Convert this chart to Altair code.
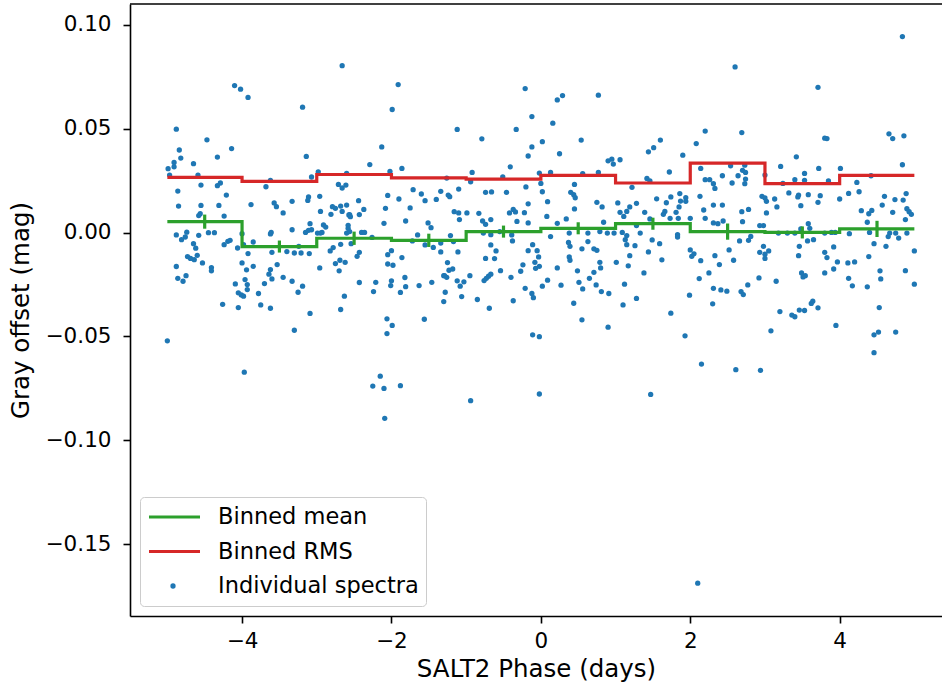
import altair as alt
import pandas as pd

# ---------------- data ----------------
phase = [
    -4.10, -4.02, -3.92, -4.88, -4.47, -4.14, -4.84, -4.82, -4.33, -4.91, -4.65, -4.99, -4.91, -4.97, -4.59,
    -4.55, -4.33, -4.29, -4.21, -4.86, -4.85, -4.55, -4.31, -3.88, -4.56, -4.58, -4.24, -4.74, -4.45, -4.37,
    -4.58, -4.88, -4.76, -4.81, -4.00, -3.98, -3.85, -4.65, -4.62, -4.24, -4.19, -4.16, -4.06, -3.92, -4.73,
    -4.69, -4.64, -4.60, -4.53, -4.00, -3.94, -3.85, -4.88, -4.41, -4.41, -4.86, -4.75, -4.79, -4.09, -3.96,
    -3.93, -3.93, -4.05, -4.01, -3.98, -4.26, -4.05, -5.00, -3.97,
    -2.66, -3.19, -3.14, -2.98, -3.07, -3.62, -3.68, -2.71, -2.66, -2.61, -2.60, -3.11, -3.12, -2.96, -3.33,
    -3.57, -3.54, -3.45, -2.95, -2.79, -2.75, -2.68, -2.66, -2.60, -2.81, -2.57, -3.09, -2.91, -2.88, -3.33,
    -3.61, -3.62, -3.15, -3.11, -3.07, -2.99, -2.95, -2.93, -2.60, -2.58, -3.60, -3.40, -3.30, -3.21, -3.10,
    -3.24, -2.82, -2.78, -2.68, -3.53, -3.62, -3.64, -3.60, -3.45, -3.33, -3.19, -3.25, -3.70, -3.78, -3.75,
    -3.62, -2.96, -2.75, -2.70, -2.69, -2.62, -2.63, -2.68, -3.09, -3.30,
    -1.91, -1.99, -2.13, -2.29, -1.86, -2.02, -1.71, -1.60, -1.55, -1.40, -1.34, -2.05, -1.90, -2.44, -2.37,
    -2.08, -1.75, -2.43, -2.56, -2.55, -1.81, -2.10, -1.51, -1.47, -2.58, -2.56, -2.40, -2.36, -2.26, -2.54,
    -1.65, -1.72, -1.55, -1.44, -1.34, -2.00, -2.05, -1.86, -2.43, -2.46, -2.05, -1.98, -1.82, -2.00, -2.01,
    -1.81, -1.63, -1.46, -1.30, -2.21, -2.43, -2.24, -1.88, -1.30, -2.06, -1.99, -2.06, -1.56, -2.15, -2.25,
    -2.10, -1.88, -2.09,
    -0.21, -0.12, -1.12, -0.33, -0.79, -0.12, -0.17, -0.41, -0.92, -0.94, -0.51, -1.26, -0.20, -0.02, -1.10,
    -1.24, -1.22, -0.74, -0.66, -0.46, -0.17, -1.16, -1.10, -1.09, -0.99, -0.83, -0.78, -0.74, -0.67, -0.42,
    -0.37, -0.34, -0.32, -0.22, -0.17, -1.21, -1.17, -1.34, -1.11, -0.77, -0.67, -0.55, -0.39, -0.38, -0.67,
    -0.60, -0.11, -0.05, -0.17, -0.74, -0.62, -0.54, -1.25, -1.23, -1.18, -1.29, -1.26, -1.12, -1.03, -1.08,
    -0.95, -0.76, -0.73, -0.70, -0.67, -0.40, -0.27, -0.24, -0.08, -0.07, -0.03, -0.02, -0.21, -0.12, -0.10,
    -1.28, -1.06, -0.85, -0.69, -0.37, -0.11, -0.02, -0.94, -0.02,
    0.77, 0.22, 0.29, 0.16, 0.54, 0.02, 0.25, 0.90, 0.95, 0.97, 1.06, 0.13, 0.56, 0.77, 0.00,
    0.02, 0.45, 0.40, 0.44, 0.46, 0.09, 0.75, 0.82, 1.03, 1.22, 0.45, 0.08, 0.34, 0.22, 0.84,
    1.06, 1.11, 1.15, 1.19, 0.13, 0.38, 0.63, 0.79, 0.89, 0.98, 1.09, 0.37, 0.39, 0.63, 0.71,
    0.75, 0.55, 0.38, 0.39, 0.22, 0.49, 0.79, 0.80, 0.71, 0.65, 0.51, 0.56, 0.74, 0.81, 0.91,
    1.01, 1.17, 1.19, 1.13, 1.15, 1.15, 1.12, 1.10, 0.09, 0.02, 0.27, 0.44, 0.55, 0.90,
    2.20, 1.60, 2.08, 1.51, 1.44, 1.90, 1.72, 2.14, 1.42, 1.46, 2.20, 2.26, 2.31, 2.33, 2.43,
    1.55, 1.28, 1.74, 1.68, 1.86, 1.87, 1.94, 1.94, 1.85, 2.13, 2.31, 2.43, 2.18, 1.39, 1.66,
    1.64, 1.81, 1.73, 1.84, 2.00, 2.20, 2.31, 2.37, 2.44, 1.46, 1.28, 1.33, 1.83, 1.83, 1.49,
    1.59, 1.26, 1.44, 2.00, 2.02, 2.05, 2.14, 1.62, 2.33, 2.39, 2.52, 1.38, 2.25, 2.12, 2.31,
    2.41, 2.49, 1.99, 2.30, 1.28, 1.74, 1.93, 2.15, 1.47,
    2.60, 3.71, 2.69, 3.80, 3.42, 3.21, 3.72, 2.54, 2.73, 2.70, 2.74, 2.64, 2.74, 2.73, 2.56,
    3.00, 3.53, 3.40, 3.53, 3.24, 2.96, 3.00, 3.02, 3.13, 3.32, 3.45, 3.44, 3.58, 3.74, 3.71,
    3.16, 3.48, 2.69, 2.78, 3.02, 2.70, 2.93, 2.98, 3.58, 3.60, 3.18, 3.30, 3.40, 3.48, 2.81,
    2.78, 2.66, 3.57, 3.65, 3.80, 2.98, 2.93, 3.00, 3.05, 3.00, 3.46, 3.45, 2.58, 3.80, 3.80,
    3.49, 3.51, 3.54, 2.92, 3.15, 2.77, 2.68, 2.71, 3.62, 3.64, 3.71, 3.46, 3.53, 3.36, 3.40,
    3.20, 3.08, 2.61, 2.94,
    4.84, 3.83, 4.66, 4.71, 4.86, 4.84, 4.01, 3.85, 4.23, 4.42, 4.26, 4.12, 4.00, 4.60, 4.74,
    4.85, 4.89, 4.57, 4.29, 4.39, 4.43, 4.71, 4.90, 4.93, 4.96, 4.88, 4.37, 4.40, 4.13, 3.89,
    3.94, 4.67, 4.75, 4.90, 4.65, 4.79, 4.46, 4.62, 3.92, 5.00, 3.83, 3.97, 4.11, 4.20, 4.39,
    3.92, 4.54, 4.88, 4.55, 4.12, 4.17, 4.37, 5.00, 4.53, 3.95, 4.46, 4.52, 4.75, 4.46,
    2.10,
]

offset = [
    0.0708, 0.0691, 0.0651, 0.0498, 0.0447, 0.0405, 0.0398, 0.0359, 0.0364, 0.0338, 0.0332, 0.0308, 0.0317, 0.0277, 0.0277,
    0.0229, 0.0226, 0.0239, 0.0181, 0.0200, 0.0128, 0.0131, 0.0131, 0.0135, 0.0091, 0.0082, 0.0080, 0.0002, 0.0000, 0.0000,
    -0.0013, -0.0011, -0.0021, -0.0034, -0.0005, -0.0058, -0.0045, -0.0053, -0.0075, -0.0058, -0.0042, -0.0037, -0.0074, -0.0101, -0.0115,
    -0.0124, -0.0130, -0.0109, -0.0146, -0.0146, -0.0179, -0.0162, -0.0163, -0.0168, -0.0184, -0.0220, -0.0207, -0.0234, -0.0247, -0.0226,
    -0.0250, -0.0274, -0.0290, -0.0300, -0.0306, -0.0345, -0.0361, -0.0521, -0.0672,
    0.0804, 0.0604, 0.0367, 0.0293, 0.0268, 0.0252, 0.0221, 0.0232, 0.0215, 0.0229, 0.0285, 0.0172, 0.0155, 0.0175, 0.0151,
    0.0143, 0.0125, 0.0095, 0.0102, 0.0125, 0.0117, 0.0128, 0.0102, 0.0133, 0.0088, 0.0085, 0.0043, 0.0037, 0.0027, 0.0014,
    0.0001, -0.0006, 0.0001, 0.0011, 0.0014, -0.0002, -0.0002, 0.0001, -0.0002, 0.0021, -0.0095, -0.0091, -0.0098, -0.0098, -0.0101,
    -0.0066, -0.0088, -0.0072, -0.0056, -0.0154, -0.0178, -0.0200, -0.0223, -0.0215, -0.0234, -0.0258, -0.0287, -0.0245, -0.0293, -0.0348,
    -0.0364, -0.0170, -0.0149, -0.0184, -0.0133, -0.0143, -0.0306, -0.0370, -0.0389, -0.0470,
    0.0713, 0.0593, 0.0413, 0.0328, 0.0309, 0.0295, 0.0207, 0.0186, 0.0154, 0.0160, 0.0199, 0.0179, 0.0162, 0.0154, 0.0112,
    0.0117, 0.0119, 0.0087, 0.0087, 0.0077, 0.0056, 0.0045, 0.0047, 0.0024, 0.0035, 0.0005, 0.0001, 0.0001, -0.0023, -0.0053,
    -0.0011, -0.0040, -0.0059, -0.0071, -0.0093, -0.0087, -0.0106, -0.0120, -0.0095, -0.0114, -0.0151, -0.0157, -0.0216, -0.0232, -0.0255,
    -0.0260, -0.0255, -0.0239, -0.0207, -0.0239, -0.0240, -0.0284, -0.0288, -0.0332, -0.0415, -0.0447, -0.0486, -0.0417, -0.0691, -0.0739,
    -0.0750, -0.0737, -0.0894,
    0.0694, 0.0559, 0.0497, 0.0497, 0.0452, 0.0413, 0.0369, 0.0317, 0.0290, 0.0245, 0.0269, 0.0263, 0.0220, 0.0287, 0.0210,
    0.0181, 0.0173, 0.0194, 0.0196, 0.0194, 0.0139, 0.0101, 0.0095, 0.0063, 0.0095, 0.0093, 0.0056, 0.0040, 0.0063, 0.0095,
    0.0112, 0.0100, 0.0054, 0.0096, 0.0047, -0.0014, -0.0043, -0.0050, -0.0093, -0.0002, -0.0010, 0.0005, -0.0011, -0.0040, -0.0059,
    -0.0088, -0.0058, -0.0087, -0.0087, -0.0124, -0.0125, -0.0183, -0.0144, -0.0181, -0.0175, -0.0207, -0.0215, -0.0232, -0.0237, -0.0258,
    -0.0207, -0.0231, -0.0220, -0.0210, -0.0200, -0.0215, -0.0186, -0.0155, -0.0143, -0.0172, -0.0117, -0.0162, -0.0268, -0.0293, -0.0313,
    -0.0287, -0.0308, -0.0322, -0.0364, -0.0328, -0.0492, -0.0501, -0.0809, -0.0777,
    0.0662, 0.0639, 0.0660, 0.0527, 0.0446, 0.0438, 0.0380, 0.0346, 0.0354, 0.0330, 0.0351, 0.0290, 0.0284, 0.0290, 0.0237,
    0.0197, 0.0232, 0.0194, 0.0183, 0.0168, 0.0149, 0.0146, 0.0124, 0.0143, 0.0218, 0.0114, 0.0078, 0.0066, 0.0045, 0.0050,
    0.0098, 0.0078, 0.0102, 0.0124, -0.0019, -0.0002, -0.0002, 0.0005, -0.0002, -0.0002, 0.0001, -0.0047, -0.0066, -0.0043, -0.0078,
    -0.0085, -0.0078, -0.0117, -0.0133, -0.0170, -0.0184, -0.0143, -0.0170, -0.0191, -0.0220, -0.0239, -0.0271, -0.0252, -0.0284, -0.0293,
    -0.0143, -0.0160, -0.0111, -0.0034, -0.0058, -0.0014, -0.0248, -0.0348, -0.0229, -0.0258, -0.0253, -0.0340, -0.0420, -0.0455,
    0.0489, 0.0446, 0.0429, 0.0409, 0.0389, 0.0373, 0.0292, 0.0309, 0.0261, 0.0249, 0.0255, 0.0255, 0.0236, 0.0213, 0.0274,
    0.0163, 0.0141, 0.0172, 0.0144, 0.0188, 0.0152, 0.0168, 0.0151, 0.0124, 0.0175, 0.0133, 0.0133, 0.0109, 0.0098, 0.0102,
    0.0088, 0.0098, 0.0069, 0.0069, 0.0069, 0.0069, 0.0047, 0.0043, 0.0056, 0.0066, 0.0034, -0.0002, -0.0010, -0.0021, -0.0035,
    -0.0053, -0.0063, -0.0093, -0.0083, -0.0114, -0.0102, -0.0135, -0.0131, -0.0111, -0.0154, -0.0083, -0.0194, -0.0194, -0.0221, -0.0268,
    -0.0276, -0.0282, -0.0301, -0.0343, -0.0317, -0.0388, -0.0497, -0.0633, -0.0779,
    0.0798, 0.0700, 0.0482, 0.0455, 0.0365, 0.0319, 0.0309, 0.0322, 0.0325, 0.0300, 0.0290, 0.0274, 0.0258, 0.0236, 0.0239,
    0.0277, 0.0285, 0.0255, 0.0252, 0.0237, 0.0175, 0.0167, 0.0151, 0.0162, 0.0191, 0.0181, 0.0172, 0.0183, 0.0178, 0.0146,
    0.0124, 0.0130, 0.0101, 0.0112, 0.0095, 0.0053, 0.0034, 0.0034, 0.0043, 0.0021, -0.0002, -0.0002, -0.0002, 0.0018, -0.0018,
    -0.0037, -0.0040, -0.0040, -0.0034, -0.0002, -0.0066, -0.0095, -0.0104, -0.0088, -0.0124, -0.0066, -0.0111, -0.0133, -0.0095, -0.0194,
    -0.0194, -0.0213, -0.0207, -0.0218, -0.0234, -0.0252, -0.0284, -0.0298, -0.0341, -0.0330, -0.0362, -0.0373, -0.0375, -0.0397, -0.0405,
    -0.0380, -0.0473, -0.0660, -0.0663,
    0.0944, 0.0453, 0.0476, 0.0453, 0.0466, 0.0327, 0.0309, 0.0249, 0.0242, 0.0274, 0.0197, 0.0189, 0.0162, 0.0175, 0.0159,
    0.0157, 0.0188, 0.0133, 0.0106, 0.0091, 0.0107, 0.0098, 0.0115, 0.0101, 0.0088, 0.0063, 0.0050, 0.0001, -0.0005, 0.0001,
    0.0001, -0.0002, -0.0002, -0.0002, -0.0019, -0.0026, -0.0053, -0.0066, -0.0069, -0.0088, -0.0120, -0.0141, -0.0146, -0.0141, -0.0115,
    -0.0175, -0.0184, -0.0183, -0.0223, -0.0220, -0.0256, -0.0261, -0.0248, -0.0361, -0.0447, -0.0492, -0.0479, -0.0479, -0.0578,
    -0.1688,
]

bin_edges = [-5, -4, -3, -2, -1, 0, 1, 2, 3, 4, 5]
bin_centers = [-4.5, -3.5, -2.5, -1.5, -0.5, 0.5, 1.5, 2.5, 3.5, 4.5]
binned_mean = [0.0053, -0.0067, -0.0027, -0.0037, 0.0005, 0.0021, 0.0043, 0.0005, 0.0001, 0.0018]
binned_rms = [0.0266, 0.0247, 0.0280, 0.0264, 0.0258, 0.0276, 0.0239, 0.0335, 0.0236, 0.0276]
mean_err = [0.0034, 0.0029, 0.0032, 0.0032, 0.0029, 0.0029, 0.0029, 0.0039, 0.0029, 0.0039]

series_names = ["Binned mean", "Binned RMS", "Individual spectra"]
series_colors = ["#2ca02c", "#d62728", "#1f77b4"]

# ---------------- tables ----------------
pts = pd.DataFrame({"phase": phase, "offset": offset, "series": series_names[2]})
mean_df = pd.DataFrame({"phase": bin_edges, "offset": binned_mean + [binned_mean[-1]], "series": series_names[0]})
rms_df = pd.DataFrame({"phase": bin_edges, "offset": binned_rms + [binned_rms[-1]], "series": series_names[1]})
err_df = pd.DataFrame({
    "phase": bin_centers,
    "lo": [m - e for m, e in zip(binned_mean, mean_err)],
    "hi": [m + e for m, e in zip(binned_mean, mean_err)],
})

FONT = "DejaVu Sans"
PLOT_W, PLOT_H = 812, 612

# the reference's axes box runs past the right edge of the picture
x_scale = alt.Scale(domain=[-5.5, 5.37], nice=False, zero=False)
y_scale = alt.Scale(domain=[-0.1846, 0.1101], nice=False, zero=False)
# third legend entry gets a transparent line; its dot comes from the shape legend below
line_color_scale = alt.Scale(domain=series_names, range=[series_colors[0], series_colors[1], "transparent"])

x_axis = alt.Axis(values=[-4, -2, 0, 2, 4], format="d", title="SALT2 Phase (days)",
                  labelPadding=7, titlePadding=6)
y_axis = alt.Axis(values=[-0.15, -0.10, -0.05, 0.0, 0.05, 0.10], format=".2f",
                  title="Gray offset (mag)", labelPadding=12, titlePadding=12)

line_legend = alt.Legend(
    title=None, orient="none", legendX=10, legendY=493, zindex=1,
    symbolType="stroke", symbolSize=2601, symbolStrokeWidth=3.2, symbolOffset=0,
    clipHeight=26, rowPadding=8.5, padding=7, labelOffset=16, labelLimit=400,
    labelFont=FONT, labelFontSize=22.5, labelColor="black",
    fillColor="white", strokeColor="#cccccc", cornerRadius=4,
)
dot_legend = alt.Legend(
    title=None, orient="none", legendX=40, legendY=569, zindex=2,
    symbolType="circle", symbolSize=28, symbolFillColor=series_colors[2],
    symbolStrokeWidth=0, symbolOffset=0, clipHeight=26, padding=0,
    labelExpr="''", labelFontSize=1,
)

line_color = alt.Color("series:N", scale=line_color_scale, legend=line_legend)

points = alt.Chart(pts).mark_point(size=28, filled=True, opacity=1, color=series_colors[2]).encode(
    x=alt.X("phase:Q", scale=x_scale, axis=x_axis),
    y=alt.Y("offset:Q", scale=y_scale, axis=y_axis),
    shape=alt.Shape("series:N", scale=alt.Scale(domain=[series_names[2]], range=["circle"]), legend=dot_legend),
)

rms_line = alt.Chart(rms_df).mark_line(interpolate="step-after", strokeWidth=3.2).encode(
    x=alt.X("phase:Q", scale=x_scale),
    y=alt.Y("offset:Q", scale=y_scale),
    color=line_color,
)

mean_line = alt.Chart(mean_df).mark_line(interpolate="step-after", strokeWidth=3.2).encode(
    x=alt.X("phase:Q", scale=x_scale),
    y=alt.Y("offset:Q", scale=y_scale),
    color=line_color,
)

err_bars = alt.Chart(err_df).mark_rule(strokeWidth=3.2, color=series_colors[0]).encode(
    x=alt.X("phase:Q", scale=x_scale),
    y=alt.Y("lo:Q", scale=y_scale),
    y2="hi:Q",
)

# top spine of the axes box (left and bottom come from the axis domains)
top_spine = alt.Chart(pd.DataFrame({"k": [0]})).mark_rule(color="black", strokeWidth=1.6).encode(
    x=alt.value(0), x2=alt.value(PLOT_W), y=alt.value(0),
)

chart = alt.layer(points, rms_line, mean_line, err_bars, top_spine).properties(
    width=PLOT_W, height=PLOT_H,
    autosize=alt.AutoSizeParams(type="none"),
    padding={"left": 130, "top": 4, "right": 0, "bottom": 74},
).configure(
    font=FONT,
).configure_view(
    stroke=None, fill="white",
).configure_axis(
    grid=False, domain=True, domainColor="black", domainWidth=1.6,
    labelFont=FONT, labelFontSize=21.5, labelColor="black",
    titleFont=FONT, titleFontSize=24.5, titleFontWeight="normal", titleColor="black",
    tickColor="black", tickSize=7, tickWidth=1.6,
)

chart.save("out.html", embed_options={"renderer": "svg", "actions": False})
